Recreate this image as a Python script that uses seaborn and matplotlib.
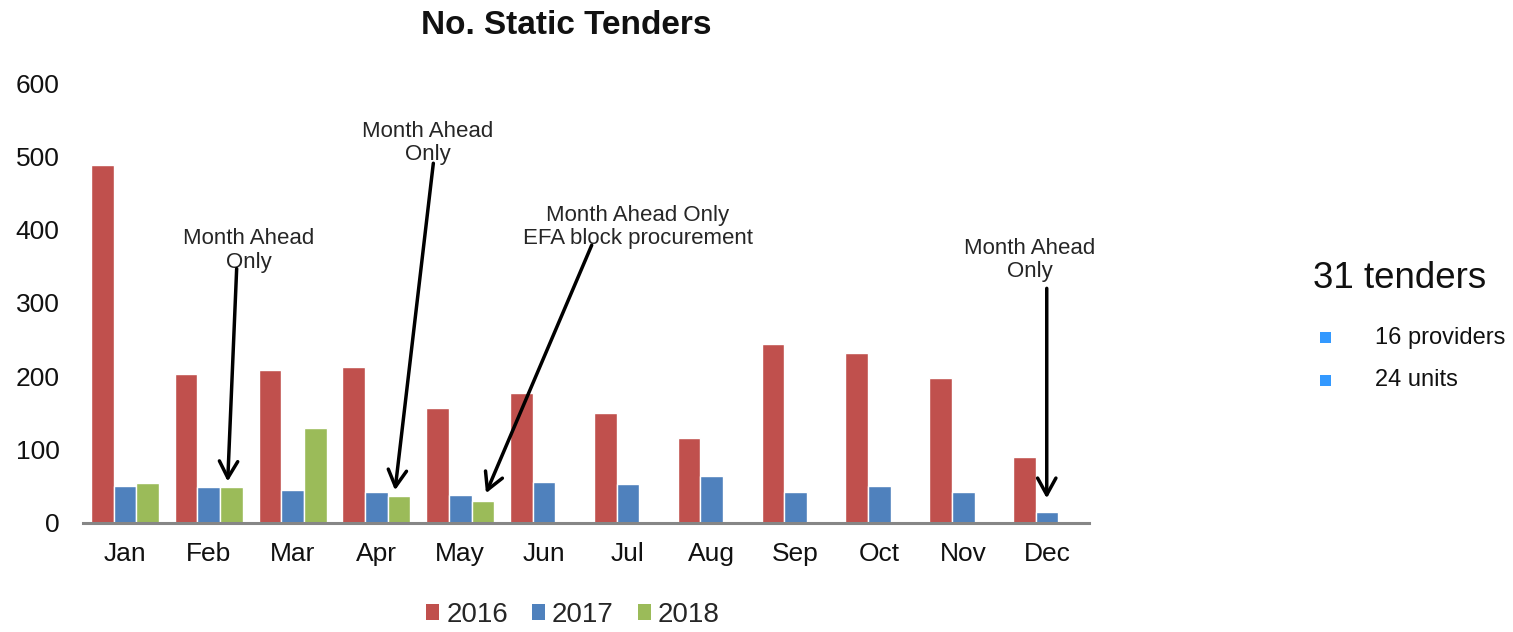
import matplotlib
matplotlib.use("Agg")
import matplotlib.pyplot as plt
import seaborn as sns
import pandas as pd
import numpy as np
from matplotlib.patches import Rectangle

months = ["Jan", "Feb", "Mar", "Apr", "May", "Jun", "Jul", "Aug", "Sep", "Oct", "Nov", "Dec"]
years = ["2016", "2017", "2018"]
v2016 = [488, 203, 209, 213, 157, 177, 149, 116, 244, 232, 197, 90]
v2017 = [50, 48, 44, 42, 38, 56, 52, 63, 42, 50, 42, 15]
v2018 = [54, 48, 129, 36, 30, np.nan, np.nan, np.nan, np.nan, np.nan, np.nan, np.nan]
colors = ["#C0504D", "#4F81BD", "#9BBB59"]

title = "No. Static Tenders"
side_title = "31 tenders"
side_items = ["16 providers", "24 units"]
notes = ["Month Ahead\nOnly", "Month Ahead\nOnly", "Month Ahead Only\nEFA block procurement", "Month Ahead\nOnly"]

df = pd.DataFrame({
    "month": months * 3,
    "year": [y for y in years for _ in months],
    "value": v2016 + v2017 + v2018,
})

sns.set_theme(style="white")
plt.rcParams["font.family"] = ["Liberation Sans", "DejaVu Sans"]

fig = plt.figure(figsize=(15.13, 6.32), dpi=100)
ax = fig.add_axes([83 / 1513, 1 - 522.5 / 632, (1089 - 83) / 1513, (522.5 - 83.5) / 632])

sns.barplot(data=df, x="month", y="value", hue="year", palette=colors, order=months,
            hue_order=years, width=0.81, saturation=1, ax=ax, legend=False)

ax.set_ylim(0, 600)
ax.set_xlim(-0.5, 11.5)
ax.set_yticks([0, 100, 200, 300, 400, 500, 600])
ax.set_xlabel("")
ax.set_ylabel("")
for s in ["top", "right", "left"]:
    ax.spines[s].set_visible(False)
ax.spines["bottom"].set_color("#868686")
ax.spines["bottom"].set_linewidth(2.2)
ax.tick_params(axis="x", length=0, pad=14, labelsize=19, labelcolor="#111111")
ax.tick_params(axis="y", length=0, pad=17, labelsize=19, labelcolor="#111111")

fig.text(566 / 1513, 1 - 25 / 632, title, ha="center", va="center",
         fontsize=24, fontweight="bold", color="#111111")

# annotations (text centre, arrow start, arrow tip) in data coordinates
ann_text = [(1.48, 372), (3.615, 519), (6.12, 404), (10.79, 359)]
ann_start = [(1.333, 347), (3.679, 491), (5.568, 379), (10.996, 320)]
ann_tip = [(1.226, 56), (3.222, 44), (4.307, 40), (10.996, 33)]
for t, (tx, ty), st, tp in zip(notes, ann_text, ann_start, ann_tip):
    ax.text(tx, ty, t, ha="center", va="center", fontsize=16, color="#262626",
            linespacing=1.15)
    ax.annotate("", xy=tp, xytext=st,
                arrowprops=dict(arrowstyle="->,head_length=1.0,head_width=0.55",
                                lw=2.5, color="black", shrinkA=0, shrinkB=0))

# legend
handles = [Rectangle((0, 0), 1, 1, facecolor=c, edgecolor="none") for c in colors]
fig.legend(handles, years, loc="center", bbox_to_anchor=(573 / 1513, 1 - 615 / 632),
           ncol=3, frameon=False, fontsize=20, handlelength=0.47, handleheight=0.47,
           handletextpad=0.25, columnspacing=0.86)

# side panel
fig.text(1313 / 1513, 1 - 278 / 632, side_title, ha="left", va="center",
         fontsize=26.5, color="#111111")
for i, item in enumerate(side_items):
    yc = 1 - (338 + 42 * i) / 632
    fig.patches.append(Rectangle((1320 / 1513, yc - 5.5 / 632), 11 / 1513, 11 / 632,
                                 transform=fig.transFigure, facecolor="#3399FF",
                                 edgecolor="none"))
    fig.text(1375 / 1513, yc, item, ha="left", va="center", fontsize=17, color="#111111")

fig.savefig("out.png", dpi=100)
